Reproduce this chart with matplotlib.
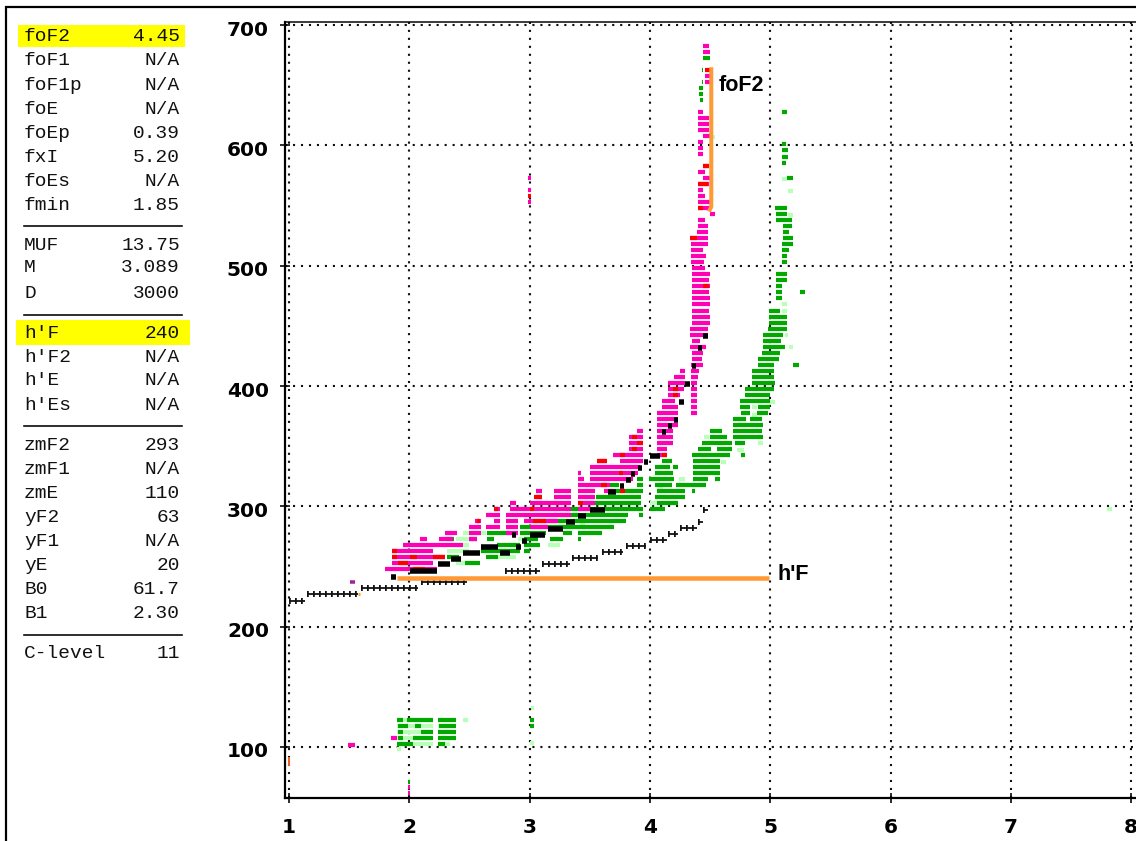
import matplotlib
matplotlib.use("Agg")
import matplotlib.pyplot as plt
from matplotlib.transforms import ScaledTranslation

PX = 72 / 100  # one pixel in points at dpi 100

freq_ticks = [1, 2, 3, 4, 5, 6, 7, 8]
height_ticks = [100, 200, 300, 400, 500, 600, 700]

# scaled parameters, three blocks split by the rules
param_names = ["foF2", "foF1", "foF1p", "foE", "foEp", "fxI", "foEs", "fmin",
               "MUF", "M", "D",
               "h'F", "h'F2", "h'E", "h'Es",
               "zmF2", "zmF1", "zmE", "yF2", "yF1", "yE", "B0", "B1",
               "C-level"]
param_values = ["4.45", "N/A", "N/A", "N/A", "0.39", "5.20", "N/A", "1.85",
                "13.75", "3.089", "3000",
                "240", "N/A", "N/A", "N/A",
                "293", "N/A", "110", "63", "N/A", "20", "61.7", "2.30",
                "11"]

# echo rows: (height km, start MHz, end MHz)
magenta_rows = [
    (247.8, 1.80, 2.23), (252.8, 1.86, 2.20), (257.8, 1.86, 2.30), (262.8, 1.86, 2.20),
    (267.8, 1.95, 2.45), (272.8, 2.09, 2.15), (272.8, 2.25, 2.36), (272.8, 2.50, 2.56),
    (277.8, 2.30, 2.40), (277.8, 2.50, 2.60), (277.8, 2.80, 2.90),
    (282.8, 2.50, 2.60), (282.8, 2.64, 2.75), (282.8, 2.80, 2.90), (282.8, 3.00, 3.15),
    (287.8, 2.55, 2.60), (287.8, 2.70, 2.75), (287.8, 2.80, 2.90), (287.8, 2.95, 3.24),
    (292.8, 2.64, 2.75), (292.8, 2.80, 3.34), (297.8, 2.70, 2.75), (297.8, 2.84, 3.34),
    (297.8, 3.40, 3.50), (302.8, 2.84, 2.89), (302.8, 3.00, 3.34), (302.8, 3.40, 3.54),
    (307.8, 3.05, 3.10), (307.8, 3.20, 3.34), (307.8, 3.40, 3.54),
    (312.8, 3.05, 3.10), (312.8, 3.20, 3.34), (312.8, 3.40, 3.54), (312.8, 3.62, 3.70),
    (317.8, 3.40, 3.67), (322.8, 3.40, 3.45), (322.8, 3.50, 3.86),
    (327.8, 3.40, 3.43), (327.8, 3.50, 3.90), (332.8, 3.50, 3.92),
    (337.8, 3.56, 3.64), (337.8, 3.75, 3.94), (342.8, 3.69, 3.94), (342.8, 4.06, 4.14),
    (347.8, 3.83, 3.94), (347.8, 4.06, 4.14), (352.8, 3.83, 3.94), (352.8, 4.06, 4.195),
    (357.8, 3.83, 3.94), (357.8, 4.06, 4.195), (362.8, 3.89, 3.945), (362.8, 4.06, 4.195),
    (367.8, 4.06, 4.235), (372.8, 4.06, 4.235), (377.8, 4.06, 4.235), (377.8, 4.34, 4.39),
    (382.8, 4.10, 4.235), (382.8, 4.34, 4.39), (387.8, 4.10, 4.21), (387.8, 4.34, 4.39),
    (392.8, 4.15, 4.25), (392.8, 4.34, 4.39), (397.8, 4.15, 4.28), (397.8, 4.34, 4.39),
    (402.8, 4.15, 4.29), (402.8, 4.34, 4.39), (407.8, 4.20, 4.29), (407.8, 4.34, 4.40),
    (412.8, 4.25, 4.29), (412.8, 4.34, 4.41), (417.8, 4.34, 4.44), (422.8, 4.35, 4.43),
    (427.8, 4.35, 4.44), (432.8, 4.33, 4.47), (437.8, 4.35, 4.42), (442.8, 4.33, 4.48),
    (447.8, 4.33, 4.48), (452.8, 4.35, 4.50), (457.8, 4.35, 4.50), (462.8, 4.35, 4.49),
    (467.8, 4.35, 4.50), (472.8, 4.35, 4.50), (477.8, 4.35, 4.49), (482.8, 4.35, 4.50),
    (487.8, 4.35, 4.49), (492.8, 4.35, 4.50), (497.8, 4.35, 4.46), (502.8, 4.34, 4.45),
    (507.8, 4.34, 4.47), (512.8, 4.34, 4.44), (517.8, 4.34, 4.48), (522.8, 4.33, 4.48),
    (527.8, 4.39, 4.48), (532.8, 4.40, 4.48), (537.8, 4.40, 4.46), (542.8, 4.50, 4.54),
    (547.8, 4.40, 4.50), (552.8, 4.40, 4.50), (557.8, 4.40, 4.46), (562.8, 4.40, 4.44),
    (567.8, 4.40, 4.49), (572.8, 4.44, 4.50), (577.8, 4.40, 4.46), (582.8, 4.44, 4.49),
    (592.8, 4.40, 4.44), (597.8, 4.40, 4.44), (602.8, 4.40, 4.44), (607.8, 4.44, 4.50),
    (612.8, 4.40, 4.49), (617.8, 4.40, 4.49), (622.8, 4.40, 4.49), (627.8, 4.40, 4.44),
    (652.8, 4.46, 4.50), (657.8, 4.46, 4.50), (677.8, 4.44, 4.50), (682.8, 4.44, 4.49),
    # stray echoes
    (552.8, 2.99, 3.01), (562.8, 2.99, 3.01), (572.8, 2.99, 3.01),
    (101.7, 1.49, 1.55), (107.8, 1.85, 1.895), (67.0, 1.99, 2.01), (61.5, 1.99, 2.01),
]
red_rows = [
    (252.8, 1.91, 1.99), (257.8, 1.853, 1.895), (257.8, 2.005, 2.06), (257.8, 2.20, 2.30),
    (262.8, 1.853, 1.895), (247.8, 2.03, 2.13), (287.8, 2.56, 2.59), (297.8, 2.70, 2.74),
    (297.8, 3.00, 3.04), (287.8, 3.03, 3.14), (307.8, 3.04, 3.10), (337.8, 3.56, 3.64),
    (342.8, 3.75, 3.79), (327.8, 3.74, 3.78), (317.8, 3.59, 3.64), (302.8, 3.40, 3.44),
    (312.8, 3.75, 3.79), (352.8, 3.89, 3.94), (357.8, 3.85, 3.89), (347.8, 3.85, 3.89),
    (397.8, 4.195, 4.235), (392.8, 4.195, 4.235), (342.8, 4.10, 4.14), (522.8, 4.33, 4.39),
    (482.8, 4.44, 4.49), (547.8, 4.40, 4.44), (567.8, 4.40, 4.48), (582.8, 4.44, 4.49),
    (662.8, 4.46, 4.50), (557.8, 2.99, 3.01),
]
green_rows = [
    (252.8, 2.46, 2.59), (257.8, 2.31, 2.41), (257.8, 2.64, 2.74), (262.8, 2.60, 2.92),
    (262.8, 2.95, 3.00), (267.8, 2.73, 2.92), (267.8, 2.95, 3.09), (272.8, 2.31, 2.37),
    (272.8, 2.50, 2.56), (272.8, 2.65, 2.70), (272.8, 2.95, 3.07), (272.8, 3.17, 3.28),
    (272.8, 3.40, 3.43), (277.8, 2.65, 2.83), (277.8, 2.92, 3.14), (277.8, 3.28, 3.35),
    (277.8, 3.40, 3.60), (282.8, 2.92, 3.70), (287.8, 3.15, 3.80), (292.8, 3.25, 3.82),
    (292.8, 3.91, 3.94), (297.8, 3.30, 3.94), (302.8, 3.45, 3.93), (307.8, 3.55, 3.93),
    (312.8, 3.65, 3.94), (317.8, 3.67, 3.74), (317.8, 3.89, 3.945), (322.8, 3.89, 3.945),
    # second branch of the X trace
    (297.8, 4.00, 4.125), (302.8, 4.055, 4.235), (307.8, 4.04, 4.29), (312.8, 4.055, 4.29),
    (312.8, 4.35, 4.375), (317.8, 4.04, 4.18), (317.8, 4.22, 4.47), (322.8, 3.99, 4.20),
    (322.8, 4.36, 4.485), (322.8, 4.54, 4.58), (327.8, 4.04, 4.195), (327.8, 4.36, 4.58),
    (332.8, 4.04, 4.17), (332.8, 4.195, 4.235), (332.8, 4.36, 4.58), (337.8, 4.10, 4.18),
    (337.8, 4.36, 4.58), (342.8, 4.35, 4.665), (342.8, 4.76, 4.79), (347.8, 4.40, 4.51),
    (347.8, 4.555, 4.68), (352.8, 4.43, 4.68), (352.8, 4.71, 4.79), (357.8, 4.50, 4.64),
    (357.8, 4.69, 4.94), (362.8, 4.50, 4.60), (362.8, 4.69, 4.93), (367.8, 4.69, 4.94),
    (372.8, 4.69, 4.80), (372.8, 4.83, 4.93), (377.8, 4.76, 4.83), (377.8, 4.89, 4.985),
    (382.8, 4.75, 4.83), (382.8, 4.90, 4.995), (387.8, 4.75, 4.995), (392.8, 4.79, 4.995),
    (397.8, 4.79, 5.03), (402.8, 4.85, 5.04), (407.8, 4.85, 5.03), (412.8, 4.85, 5.03),
    (417.8, 4.90, 5.03), (417.8, 5.19, 5.24), (422.8, 4.90, 5.07), (427.8, 4.93, 5.08),
    (432.8, 4.94, 5.12), (437.8, 4.94, 5.09), (442.8, 4.94, 5.11), (447.8, 4.98, 5.14),
    (452.8, 4.99, 5.14), (457.8, 4.99, 5.14), (462.8, 4.99, 5.08), (472.8, 5.05, 5.095),
    (477.8, 5.05, 5.095), (477.8, 5.25, 5.29), (482.8, 5.05, 5.095), (487.8, 5.05, 5.14),
    (492.8, 5.05, 5.14), (502.8, 5.095, 5.14), (507.8, 5.095, 5.14), (512.8, 5.095, 5.16),
    (517.8, 5.095, 5.19), (522.8, 5.11, 5.19), (527.8, 5.11, 5.16), (532.8, 5.11, 5.18),
    (537.8, 5.05, 5.18), (542.8, 5.05, 5.14), (547.8, 5.04, 5.14), (572.8, 5.14, 5.19),
    (585.8, 5.095, 5.135), (590.8, 5.095, 5.145), (595.8, 5.095, 5.145), (600.8, 5.095, 5.135),
    (627.8, 5.095, 5.14),
    # green specks up the fourth column
    (637.8, 4.416, 4.44), (642.8, 4.41, 4.44), (647.8, 4.41, 4.44), (652.8, 4.43, 4.445),
    (662.8, 4.43, 4.445), (672.8, 4.44, 4.50),
    # E region
    (122.8, 1.895, 1.95), (122.8, 1.98, 2.20), (122.8, 2.24, 2.39),
    (117.8, 1.91, 1.99), (117.8, 2.05, 2.10), (117.8, 2.25, 2.39),
    (112.8, 1.91, 1.95), (112.8, 2.10, 2.20), (112.8, 2.24, 2.39),
    (107.8, 1.91, 1.95), (107.8, 2.03, 2.20), (107.8, 2.24, 2.39),
    (102.8, 1.90, 2.03), (102.8, 2.24, 2.30),
    (122.8, 3.00, 3.04), (117.8, 3.00, 3.04), (71.0, 1.99, 2.01),
]
light_rows = [
    (252.8, 2.39, 2.46), (262.8, 2.31, 2.50), (267.8, 2.39, 2.50), (272.8, 2.39, 2.50),
    (277.8, 2.45, 2.64), (257.8, 2.74, 2.89), (272.8, 2.90, 3.00), (267.8, 3.155, 3.25),
    (284.5, 3.42, 3.46), (302.8, 4.00, 4.06), (316.0, 4.07, 4.11), (322.5, 4.24, 4.29),
    (337.0, 4.59, 4.63), (358.0, 4.45, 4.49), (347.0, 4.72, 4.78), (352.4, 4.90, 4.94),
    (376.0, 4.85, 4.89), (383.0, 4.85, 4.89), (387.0, 5.00, 5.04), (432.5, 5.16, 5.19),
    (442.5, 5.12, 5.15), (462.8, 5.095, 5.14), (467.8, 5.095, 5.14), (542.0, 5.15, 5.19),
    (562.0, 5.15, 5.19), (572.0, 5.095, 5.14), (607.0, 4.52, 4.54), (298.0, 7.80, 7.84),
    (122.8, 1.90, 2.20), (122.8, 2.24, 2.39), (122.8, 2.45, 2.49),
    (117.8, 1.90, 2.20), (117.8, 2.24, 2.39), (112.8, 1.90, 2.20), (112.8, 2.24, 2.39),
    (107.8, 1.90, 2.20), (107.8, 2.24, 2.39), (102.8, 1.90, 2.20), (102.8, 2.24, 2.34),
    (98.0, 1.90, 1.93), (132.0, 3.01, 3.04), (103.0, 3.00, 3.04),
]
# the dark L marks of the corrected echo
black_rows = [
    (241.6, 1.85, 1.89), (246.6, 2.005, 2.23), (252.0, 2.24, 2.34), (256.5, 2.35, 2.43),
    (261.5, 2.45, 2.59), (266.5, 2.60, 2.74), (261.5, 2.755, 2.84), (266.5, 2.89, 2.93),
    (276.5, 2.85, 2.885), (271.5, 2.94, 2.98), (276.5, 3.00, 3.13), (281.5, 3.156, 3.28),
    (287.0, 3.30, 3.38), (292.0, 3.405, 3.47), (297.0, 3.50, 3.63), (311.7, 3.65, 3.72),
    (316.7, 3.75, 3.785), (321.7, 3.80, 3.84), (326.6, 3.845, 3.88), (331.6, 3.90, 3.935),
    (336.6, 3.95, 3.985), (341.6, 4.00, 4.08), (361.6, 4.10, 4.135), (366.5, 4.15, 4.185),
    (371.5, 4.20, 4.235), (386.5, 4.245, 4.28), (401.5, 4.295, 4.33), (416.4, 4.35, 4.385),
    (431.4, 4.40, 4.435), (441.6, 4.445, 4.48),
]
# the thin "+" trace underneath
plus_rows = [
    (221.6, 1.00, 1.13), (226.9, 1.147, 1.576), (231.9, 1.596, 2.07), (236.9, 2.10, 2.48),
    (246.6, 2.795, 3.085), (252.0, 3.10, 3.336), (257.0, 3.35, 3.57), (262.0, 3.60, 3.78),
    (267.0, 3.80, 3.97), (272.0, 4.00, 4.14), (277.0, 4.15, 4.236), (281.7, 4.25, 4.39),
    (287.0, 4.40, 4.44), (297.0, 4.44, 4.486),
]

fof2_line = ([4.51, 4.51, 4.49], [665, 549, 545])
hf_line = ([1.895, 4.99], [240.7, 240.7])

fig = plt.figure(figsize=(11.36, 8.41), dpi=100, facecolor="white")

# full-figure layer in pixels for the text panel and the outline
panel = fig.add_axes([0, 0, 1, 1])
panel.set_xlim(0, 1136)
panel.set_ylim(841, 0)
panel.axis("off")
panel.plot([6, 6, 1136], [841, 7, 7], color="black", lw=2.2 * PX, solid_joinstyle="miter")
panel.fill_between([18, 185], 25, 47, color="#ffff00", lw=0)
panel.fill_between([16, 190], 320, 345, color="#ffff00", lw=0)

row_y = [36, 60, 85, 109, 133, 157, 181, 205,
         245, 268, 293,
         333, 357, 380, 405,
         445, 469, 493, 517, 541, 565, 589, 613,
         654]
for y, name, value in zip(row_y, param_names, param_values):
    panel.text(24, y, name, family="Liberation Mono", fontsize=14, va="center", ha="left", color="#111111")
    panel.text(180, y, value, family="Liberation Mono", fontsize=14, va="center", ha="right", color="#111111")
for y in [226, 315, 426, 635]:
    panel.plot([24, 182], [y, y], color="black", lw=1.6 * PX)

# ionogram axes
ax = fig.add_axes([285 / 1136, 1 - 798 / 841, (1136 - 285) / 1136, (798 - 22) / 841], facecolor="none")
ax.set_xlim(0.967, 8.04)
ax.set_ylim(57.6, 702.6)
ax.spines["right"].set_visible(False)
ax.spines["left"].set_linewidth(2.2 * PX)
ax.spines["bottom"].set_linewidth(2.2 * PX)
ax.spines["top"].set_linewidth(1.5 * PX)
ax.set_xticks(freq_ticks)
ax.set_yticks(height_ticks)
ax.set_xticklabels([str(v) for v in freq_ticks], fontweight="bold", fontsize=14.5)
ax.set_yticklabels([str(v) for v in height_ticks], fontweight="bold", fontsize=14.5)
ax.tick_params(axis="x", direction="inout", length=10 * PX, width=1.6 * PX, pad=11)
ax.tick_params(axis="y", direction="inout", length=10 * PX, width=1.6 * PX, pad=8)
ax.grid(True, color="#111111", lw=2.1 * PX, linestyle=(0, (1, 2.8)))
ax.set_axisbelow(True)
for label in ax.get_yticklabels():
    label.set_transform(label.get_transform() + ScaledTranslation(0, -3 / 100, fig.dpi_scale_trans))


def draw_rows(rows, color, px_thick=4.2, zorder=3, **kwargs):
    heights = [r[0] for r in rows]
    starts = [r[1] for r in rows]
    ends = [r[2] for r in rows]
    ax.hlines(heights, starts, ends, colors=color, lw=px_thick * PX, zorder=zorder,
              capstyle="butt", **kwargs)


draw_rows(light_rows, "#b8ffb8", zorder=3)
draw_rows(green_rows, "#00a800", zorder=4)
draw_rows(magenta_rows, "#ff00b4", zorder=5)
draw_rows(red_rows, "#ff0000", zorder=6)
draw_rows(black_rows, "black", px_thick=5.5, zorder=7)

# plus trace: line with short ticks every 6 px
draw_rows(plus_rows, "#111111", px_thick=1.8, zorder=7)
draw_rows(plus_rows, "#111111", px_thick=6, zorder=7, linestyles=[(0, (1.8 / 6, 4.2 / 6))])

# small single echoes
ax.hlines([237.5], 1.51, 1.545, colors="#a020a0", lw=3.5 * PX, zorder=5, capstyle="butt")
ax.hlines([227.0], 1.57, 1.59, colors="#ffa020", lw=3 * PX, zorder=8, capstyle="butt")
ax.vlines([1.0], 84, 92, colors="#f06020", lw=2 * PX, zorder=5)

ax.plot(fof2_line[0], fof2_line[1], color="#ff9933", lw=4 * PX, zorder=9, solid_capstyle="butt")
ax.plot(hf_line[0], hf_line[1], color="#ff9933", lw=4.5 * PX, zorder=9, solid_capstyle="butt")
ax.text(4.575, 650, "foF2", family="Liberation Sans", fontweight="bold", fontsize=15.5, va="center", zorder=10)
ax.text(5.06, 243.5, "h'F", family="Liberation Sans", fontweight="bold", fontsize=15.5, va="center", zorder=10)

fig.savefig("out.png", dpi=100)
